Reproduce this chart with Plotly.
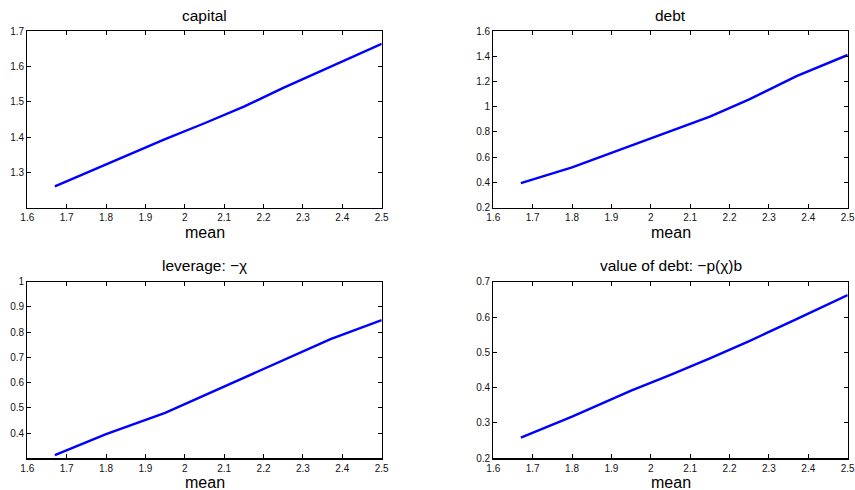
import plotly.graph_objects as go

mean_x = [1.67, 1.80, 1.95, 2.05, 2.15, 2.25, 2.37, 2.50]
capital = [1.2605, 1.3235, 1.394, 1.439, 1.486, 1.539, 1.599, 1.664]
debt = [0.3955, 0.520, 0.691, 0.805, 0.921, 1.058, 1.243, 1.41]
leverage = [0.313, 0.396, 0.480, 0.550, 0.618, 0.690, 0.772, 0.848]
value_debt = [0.2585, 0.318, 0.3915, 0.436, 0.483, 0.532, 0.594, 0.662]

titles = ["capital", "debt", "leverage: \u2212\u03c7", "value of debt: \u2212p(\u03c7)b"]
series = [capital, debt, leverage, value_debt]
yranges = [[1.2, 1.7], [0.2, 1.6], [0.3, 1.0], [0.2, 0.7]]
ytickvals = [[1.3, 1.4, 1.5, 1.6, 1.7],
             [0.2, 0.4, 0.6, 0.8, 1.0, 1.2, 1.4, 1.6],
             [0.4, 0.5, 0.6, 0.7, 0.8, 0.9, 1.0],
             [0.2, 0.3, 0.4, 0.5, 0.6, 0.7]]
yticktext = [["1.3", "1.4", "1.5", "1.6", "1.7"],
             ["0.2", "0.4", "0.6", "0.8", "1", "1.2", "1.4", "1.6"],
             ["0.4", "0.5", "0.6", "0.7", "0.8", "0.9", "1"],
             ["0.2", "0.3", "0.4", "0.5", "0.6", "0.7"]]
xtickvals = [1.6, 1.7, 1.8, 1.9, 2.0, 2.1, 2.2, 2.3, 2.4, 2.5]
xticktext = ["1.6", "1.7", "1.8", "1.9", "2", "2.1", "2.2", "2.3", "2.4", "2.5"]

W, H = 855, 490
xdoms = [[27.3 / W, 381.7 / W], [493.3 / W, 847.7 / W]]
ydoms = [[1 - 207.7 / H, 1 - 31 / H], [1 - 458.3 / H, 1 - 281.7 / H]]
title_y = [15, 265]
mean_y = [233, 482]

font = "Liberation Sans, Arial, Helvetica, sans-serif"
fig = go.Figure()
annotations = []
for i in range(4):
    r, c = divmod(i, 2)
    n = i + 1
    xa = "x" if n == 1 else f"x{n}"
    ya = "y" if n == 1 else f"y{n}"
    fig.add_trace(go.Scatter(x=mean_x, y=series[i], mode="lines",
                             line=dict(color="#0000ff", width=2.4),
                             xaxis=xa, yaxis=ya, showlegend=False, hoverinfo="skip"))
    axcommon = dict(showgrid=False, zeroline=False, showline=True, linecolor="black",
                    linewidth=1.2, mirror="ticks", ticks="inside", ticklen=4,
                    tickcolor="black", automargin=False, ticklabeloverflow="allow",
                    tickfont=dict(family=font, size=10, color="#111"))
    fig.layout[f"xaxis{'' if n == 1 else n}"] = dict(
        domain=xdoms[c], range=[1.6, 2.5], anchor=ya, tickvals=xtickvals,
        ticktext=xticktext, **axcommon)
    fig.layout[f"yaxis{'' if n == 1 else n}"] = dict(
        domain=ydoms[r], range=yranges[i], anchor=xa, tickvals=ytickvals[i],
        ticktext=yticktext[i], **axcommon)
    cx = (xdoms[c][0] + xdoms[c][1]) / 2
    annotations.append(dict(text=titles[i], x=cx, y=1 - title_y[r] / H, xref="paper",
                            yref="paper", showarrow=False, xanchor="center",
                            yanchor="middle", font=dict(family=font, size=15.5, color="black")))
    annotations.append(dict(text="mean", x=cx, y=1 - mean_y[r] / H, xref="paper",
                            yref="paper", showarrow=False, xanchor="center",
                            yanchor="middle", font=dict(family=font, size=16, color="black")))

fig.update_layout(template="none", width=W, height=H, margin=dict(l=0, r=0, t=0, b=0),
                  plot_bgcolor="white", paper_bgcolor="white", annotations=annotations)
fig.write_html("out.html", config={"displayModeBar": False, "staticPlot": True},
               post_script="document.body.style.margin='0';document.body.style.overflow='hidden';")
